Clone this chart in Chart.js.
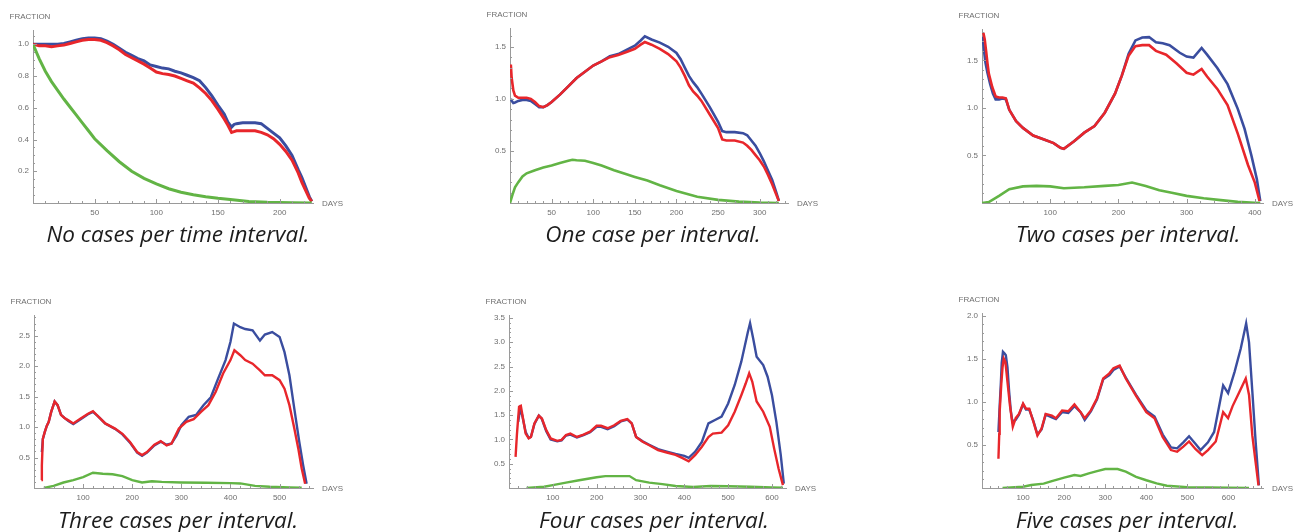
<!DOCTYPE html>
<html>
<head>
<meta charset="utf-8">
<script src="https://cdn.jsdelivr.net/npm/chart.js@4.4.1/dist/chart.umd.min.js"></script>
<style>
  html, body { margin: 0; padding: 0; background: #fff; width: 1294px; height: 532px; overflow: hidden; }
  canvas { position: absolute; }
  .caption { position: absolute; font: italic 22.5px "Open Sans", Lato, sans-serif; line-height: 22px; color: #1c1c1c; white-space: nowrap; transform: translateX(-50%); }
</style>
</head>
<body>
<script>
// values, panel by panel (days -> fraction)
const p1Days = [0, 5, 10, 15, 20, 25, 30, 35, 40, 45, 50, 55, 60, 65, 70, 75, 80, 85, 90, 95, 100, 105, 110, 115, 120, 125, 130, 135, 140, 145, 150, 155, 158, 161, 163, 165, 170, 175, 180, 185, 190, 195, 200, 205, 210, 215, 218, 221, 224, 226];
const p1Blue = [1.0, 1.0, 1.0, 1.0, 1.0, 1.005, 1.015, 1.025, 1.035, 1.04, 1.04, 1.035, 1.02, 1.0, 0.975, 0.95, 0.93, 0.91, 0.895, 0.87, 0.86, 0.85, 0.845, 0.83, 0.82, 0.805, 0.79, 0.77, 0.727, 0.675, 0.615, 0.56, 0.51, 0.478, 0.495, 0.5, 0.505, 0.505, 0.505, 0.5, 0.47, 0.44, 0.41, 0.36, 0.3, 0.21, 0.16, 0.1, 0.04, 0.01];
const p1Red = [1.0, 0.99, 0.99, 0.985, 0.99, 0.995, 1.005, 1.015, 1.025, 1.03, 1.03, 1.025, 1.01, 0.99, 0.965, 0.935, 0.915, 0.895, 0.875, 0.85, 0.825, 0.815, 0.81, 0.8, 0.785, 0.77, 0.755, 0.725, 0.69, 0.645, 0.59, 0.53, 0.49, 0.445, 0.45, 0.455, 0.455, 0.455, 0.455, 0.445, 0.43, 0.405, 0.37, 0.325, 0.27, 0.19, 0.13, 0.08, 0.03, 0.01];
const p1GreenDays = [0, 5, 10, 15, 20, 25, 30, 35, 40, 45, 50, 60, 70, 80, 90, 100, 110, 120, 130, 140, 150, 160, 175, 190, 210, 226];
const p1Green = [1.0, 0.91, 0.83, 0.765, 0.71, 0.655, 0.605, 0.555, 0.505, 0.455, 0.405, 0.33, 0.26, 0.2, 0.155, 0.12, 0.09, 0.068, 0.052, 0.04, 0.03, 0.022, 0.01, 0.005, 0.002, 0.0];

const p2Days = [1, 2, 4, 6, 10, 15, 20, 25, 30, 35, 40, 45, 50, 60, 70, 80, 90, 100, 110, 120, 130, 140, 150, 157, 162, 170, 180, 190, 200, 205, 210, 215, 220, 225, 230, 240, 250, 255, 260, 270, 280, 285, 290, 295, 300, 305, 310, 315, 320, 323];
const p2Blue = [1.0, 0.98, 0.96, 0.965, 0.98, 0.99, 0.99, 0.98, 0.95, 0.92, 0.92, 0.94, 0.97, 1.04, 1.12, 1.2, 1.26, 1.32, 1.36, 1.41, 1.43, 1.47, 1.51, 1.56, 1.6, 1.57, 1.54, 1.5, 1.44, 1.38, 1.3, 1.22, 1.16, 1.11, 1.05, 0.92, 0.78, 0.69, 0.68, 0.68, 0.67, 0.65, 0.6, 0.55, 0.48, 0.4, 0.31, 0.22, 0.1, 0.02];
const p2Red = [1.33, 1.2, 1.08, 1.03, 1.01, 1.01, 1.01, 1.0, 0.97, 0.93, 0.92, 0.94, 0.97, 1.04, 1.12, 1.2, 1.26, 1.32, 1.36, 1.4, 1.42, 1.45, 1.48, 1.52, 1.545, 1.52, 1.48, 1.43, 1.36, 1.3, 1.22, 1.13, 1.07, 1.03, 0.98, 0.85, 0.72, 0.61, 0.6, 0.6, 0.58, 0.55, 0.51, 0.46, 0.41, 0.35, 0.27, 0.18, 0.08, 0.02];
const p2GreenDays = [0, 3, 6, 10, 15, 20, 30, 40, 50, 60, 70, 75, 80, 90, 100, 110, 125, 140, 150, 165, 180, 200, 225, 250, 275, 300, 323];
const p2Green = [0, 0.08, 0.15, 0.2, 0.255, 0.285, 0.315, 0.34, 0.36, 0.385, 0.405, 0.415, 0.41, 0.405, 0.385, 0.36, 0.315, 0.275, 0.25, 0.215, 0.17, 0.115, 0.06, 0.03, 0.013, 0.004, 0];

const p3BlueDays = [1, 3, 5, 8, 12, 16, 20, 25, 30, 35, 40, 50, 60, 75, 90, 105, 115, 120, 135, 150, 165, 180, 195, 205, 215, 225, 235, 245, 255, 265, 275, 290, 300, 310, 322, 330, 345, 360, 375, 385, 395, 403, 408];
const p3Blue = [1.75, 1.6, 1.48, 1.37, 1.25, 1.15, 1.09, 1.09, 1.1, 1.09, 0.98, 0.86, 0.79, 0.71, 0.67, 0.63, 0.58, 0.57, 0.65, 0.74, 0.81, 0.95, 1.15, 1.34, 1.57, 1.71, 1.74, 1.745, 1.69, 1.68, 1.66, 1.58, 1.54, 1.53, 1.63, 1.56, 1.42, 1.25, 0.99, 0.78, 0.5, 0.25, 0.02];
const p3RedDays = [2, 4, 6, 8, 10, 15, 20, 25, 30, 35, 40, 50, 60, 75, 90, 105, 115, 120, 135, 150, 165, 180, 195, 205, 215, 225, 235, 245, 255, 270, 285, 300, 310, 322, 330, 345, 360, 375, 390, 400, 407];
const p3Red = [1.79, 1.72, 1.6, 1.47, 1.36, 1.22, 1.12, 1.11, 1.11, 1.1, 0.98, 0.86, 0.79, 0.71, 0.67, 0.63, 0.58, 0.57, 0.65, 0.74, 0.81, 0.95, 1.15, 1.34, 1.55, 1.65, 1.66, 1.66, 1.6, 1.56, 1.47, 1.37, 1.35, 1.41, 1.33, 1.2, 1.03, 0.73, 0.4, 0.215, 0.02];
const p3GreenDays = [0, 10, 25, 40, 60, 80, 100, 120, 150, 180, 200, 220, 240, 260, 280, 300, 325, 350, 375, 400, 408];
const p3Green = [0, 0.01, 0.075, 0.145, 0.175, 0.18, 0.175, 0.155, 0.165, 0.18, 0.19, 0.215, 0.18, 0.135, 0.105, 0.075, 0.05, 0.03, 0.012, 0.003, 0];

const p4BlueDays = [16, 18, 22, 26, 30, 35, 42, 48, 55, 62, 70, 80, 95, 110, 120, 130, 145, 165, 180, 195, 210, 220, 230, 245, 258, 270, 280, 290, 300, 315, 330, 345, 360, 375, 390, 400, 407, 420, 430, 445, 460, 470, 485, 500, 510, 520, 530, 540, 548, 555];
const p4Blue = [0.59, 0.8, 0.92, 1.02, 1.085, 1.25, 1.42, 1.36, 1.2, 1.15, 1.1, 1.05, 1.13, 1.21, 1.25, 1.18, 1.06, 0.97, 0.88, 0.75, 0.58, 0.53, 0.58, 0.7, 0.76, 0.71, 0.73, 0.86, 1.03, 1.17, 1.2, 1.36, 1.49, 1.8, 2.1, 2.4, 2.7, 2.64, 2.61, 2.59, 2.42, 2.52, 2.56, 2.48, 2.23, 1.85, 1.3, 0.76, 0.37, 0.07];
const p4RedDays = [15, 16, 18, 22, 26, 30, 35, 42, 48, 55, 62, 70, 80, 95, 110, 120, 130, 145, 165, 180, 195, 210, 220, 230, 245, 258, 270, 280, 295, 310, 325, 340, 355, 370, 385, 400, 408, 420, 430, 445, 460, 470, 485, 500, 510, 520, 530, 538, 545, 552];
const p4Red = [0.13, 0.37, 0.81, 0.92, 1.02, 1.085, 1.25, 1.42, 1.36, 1.2, 1.15, 1.11, 1.06, 1.14, 1.22, 1.26, 1.18, 1.06, 0.975, 0.89, 0.76, 0.59, 0.54, 0.59, 0.71, 0.77, 0.7, 0.73, 0.975, 1.085, 1.13, 1.25, 1.36, 1.58, 1.88, 2.1, 2.26, 2.18, 2.1, 2.04, 1.93, 1.85, 1.85, 1.77, 1.63, 1.36, 0.975, 0.65, 0.32, 0.07];
const p4GreenDays = [20, 40, 60, 80, 100, 120, 140, 160, 180, 200, 220, 240, 260, 300, 350, 400, 420, 450, 480, 520, 545];
const p4Green = [0, 0.035, 0.09, 0.13, 0.18, 0.25, 0.235, 0.225, 0.195, 0.13, 0.09, 0.11, 0.1, 0.09, 0.085, 0.08, 0.075, 0.035, 0.02, 0.008, 0.003];

const p5BlueDays = [21, 25, 30, 38, 45, 50, 58, 68, 75, 85, 95, 110, 120, 130, 140, 155, 170, 185, 200, 210, 225, 240, 255, 270, 280, 290, 305, 320, 340, 360, 380, 400, 410, 425, 440, 455, 470, 485, 500, 515, 530, 545, 550, 557, 565, 580, 590, 600, 610, 620, 627];
const p5Blue = [1.36, 1.62, 1.5, 1.15, 1.03, 1.05, 1.32, 1.49, 1.42, 1.17, 1.0, 0.96, 0.98, 1.08, 1.1, 1.04, 1.09, 1.15, 1.26, 1.26, 1.21, 1.27, 1.37, 1.41, 1.33, 1.05, 0.96, 0.89, 0.8, 0.75, 0.7, 0.66, 0.62, 0.75, 0.95, 1.33, 1.4, 1.47, 1.74, 2.12, 2.6, 3.21, 3.39, 3.08, 2.7, 2.53, 2.29, 1.91, 1.36, 0.68, 0.09];
const p5RedDays = [15, 18, 20, 23, 27, 32, 38, 45, 50, 58, 68, 75, 85, 95, 110, 120, 130, 140, 155, 170, 185, 200, 210, 225, 240, 255, 270, 280, 290, 305, 320, 340, 360, 380, 395, 410, 425, 440, 455, 465, 485, 500, 515, 530, 540, 548, 555, 565, 580, 595, 605, 615, 625];
const p5Red = [0.64, 1.09, 1.33, 1.67, 1.69, 1.43, 1.12, 1.02, 1.05, 1.33, 1.49, 1.43, 1.19, 1.02, 0.97, 0.99, 1.09, 1.12, 1.05, 1.1, 1.16, 1.28, 1.28, 1.23, 1.29, 1.38, 1.42, 1.33, 1.05, 0.95, 0.88, 0.78, 0.73, 0.68, 0.62, 0.55, 0.68, 0.85, 1.05, 1.12, 1.14, 1.29, 1.57, 1.91, 2.15, 2.36, 2.19, 1.78, 1.57, 1.26, 0.81, 0.4, 0.06];
const p5GreenDays = [40, 80, 100, 130, 160, 200, 220, 250, 275, 290, 320, 350, 380, 420, 460, 500, 550, 600, 625];
const p5Green = [0, 0.025, 0.06, 0.11, 0.16, 0.22, 0.245, 0.245, 0.245, 0.16, 0.11, 0.08, 0.04, 0.02, 0.04, 0.035, 0.025, 0.01, 0.005];

const p6BlueDays = [40, 43, 46, 48, 51, 55, 58, 62, 66, 70, 74, 82, 90, 100, 107, 115, 125, 135, 145, 155, 170, 180, 195, 210, 225, 240, 250, 265, 280, 295, 310, 320, 335, 350, 375, 400, 420, 440, 460, 475, 490, 504, 520, 532, 550, 565, 587, 599, 615, 630, 643, 650, 658, 666, 674];
const p6Blue = [0.65, 0.95, 1.23, 1.45, 1.58, 1.56, 1.54, 1.4, 1.12, 0.9, 0.77, 0.79, 0.85, 0.97, 0.91, 0.91, 0.78, 0.62, 0.68, 0.85, 0.82, 0.8, 0.88, 0.87, 0.95, 0.88, 0.79, 0.89, 1.03, 1.26, 1.31, 1.37, 1.41, 1.28, 1.08, 0.9, 0.83, 0.62, 0.47, 0.46, 0.53, 0.6, 0.51, 0.44, 0.53, 0.65, 1.19, 1.1, 1.35, 1.62, 1.91, 1.69, 1.12, 0.54, 0.03];
const p6RedDays = [40, 42, 43, 47, 50, 53, 57, 62, 68, 75, 82, 90, 100, 107, 115, 125, 135, 145, 155, 170, 180, 195, 210, 225, 240, 250, 265, 280, 295, 310, 320, 335, 350, 375, 400, 420, 440, 460, 475, 490, 504, 520, 536, 550, 569, 587, 599, 610, 625, 642, 650, 658, 666, 673];
const p6Red = [0.34, 0.63, 0.88, 1.21, 1.4, 1.5, 1.46, 1.23, 0.96, 0.71, 0.81, 0.86, 0.98, 0.92, 0.92, 0.77, 0.61, 0.69, 0.86, 0.84, 0.81, 0.9, 0.89, 0.97, 0.88, 0.81, 0.9, 1.04, 1.27, 1.33, 1.39, 1.42, 1.27, 1.07, 0.88, 0.81, 0.59, 0.44, 0.42, 0.48, 0.54, 0.45, 0.38, 0.44, 0.54, 0.88, 0.81, 0.95, 1.1, 1.27, 1.08, 0.61, 0.3, 0.03];
const p6GreenDays = [50, 100, 120, 150, 170, 200, 225, 240, 260, 280, 300, 330, 350, 375, 400, 425, 450, 500, 550, 650];
const p6Green = [0, 0.015, 0.035, 0.05, 0.08, 0.12, 0.15, 0.14, 0.17, 0.195, 0.22, 0.22, 0.19, 0.13, 0.09, 0.053, 0.026, 0.01, 0.006, 0];

// tick labels
const xTicks50 = [50, 100, 150, 200];
const xTicks2 = [50, 100, 150, 200, 250, 300];
const xTicks3 = [100, 200, 300, 400];
const xTicks4 = [100, 200, 300, 400, 500];
const xTicks5 = [100, 200, 300, 400, 500, 600];
const yTicks1 = [0.2, 0.4, 0.6, 0.8, 1.0];
const yTicks2 = [0.5, 1.0, 1.5];
const yTicks4 = [0.5, 1.0, 1.5, 2.0, 2.5];
const yTicks5 = [0.5, 1.0, 1.5, 2.0, 2.5, 3.0, 3.5];
const yTicks6 = [0.5, 1.0, 1.5, 2.0];

const captions = ['No cases per time interval.', 'One case per interval.', 'Two cases per interval.',
  'Three cases per interval.', 'Four cases per interval.', 'Five cases per interval.'];

const BLUE = '#3a4d9f';
const RED = '#e8262b';
const GREEN = '#62b445';
const AXIS = '#9a9a9a';
const TICK = '#6f6f6f';

// where each panel sits on the page (origin pixel, px per unit, axis extents)
const panels = [
  { x0: 33, y0: 203, kx: 1.232, ky: 159, xmax: 227, ymax: 1.09, xMinor: 10, yMinor: 0.05, xTicks: xTicks50, yTicks: yTicks1, lw: 3,
    blueDays: p1Days, blue: p1Blue, redDays: p1Days, red: p1Red, greenDays: p1GreenDays, green: p1Green, capX: 178, capY: 223 },
  { x0: 510, y0: 203, kx: 0.832, ky: 104, xmax: 334, ymax: 1.68, xMinor: 10, yMinor: 0.1, xTicks: xTicks2, yTicks: yTicks2, lw: 2.6,
    blueDays: p2Days, blue: p2Blue, redDays: p2Days, red: p2Red, greenDays: p2GreenDays, green: p2Green, capX: 653, capY: 223 },
  { x0: 982, y0: 203, kx: 0.683, ky: 95, xmax: 412, ymax: 1.83, xMinor: 20, yMinor: 0.1, xTicks: xTicks3, yTicks: yTicks2, lw: 2.6,
    blueDays: p3BlueDays, blue: p3Blue, redDays: p3RedDays, red: p3Red, greenDays: p3GreenDays, green: p3Green, capX: 1128, capY: 223 },
  { x0: 34, y0: 488, kx: 0.492, ky: 61, xmax: 568, ymax: 2.84, xMinor: 20, yMinor: 0.1, xTicks: xTicks4, yTicks: yTicks4, lw: 2.4,
    blueDays: p4BlueDays, blue: p4Blue, redDays: p4RedDays, red: p4Red, greenDays: p4GreenDays, green: p4Green, capX: 178, capY: 509 },
  { x0: 509, y0: 488, kx: 0.439, ky: 48.6, xmax: 632, ymax: 3.56, xMinor: 20, yMinor: 0.1, xTicks: xTicks5, yTicks: yTicks5, lw: 2.4,
    blueDays: p5BlueDays, blue: p5Blue, redDays: p5RedDays, red: p5Red, greenDays: p5GreenDays, green: p5Green, capX: 654, capY: 509 },
  { x0: 982, y0: 488, kx: 0.411, ky: 86.3, xmax: 684, ymax: 2.03, xMinor: 20, yMinor: 0.1, xTicks: xTicks5, yTicks: yTicks6, lw: 2.4,
    blueDays: p6BlueDays, blue: p6Blue, redDays: p6RedDays, red: p6Red, greenDays: p6GreenDays, green: p6Green, capX: 1127, capY: 509 }
];

// Mathematica-style axes: ticks pointing into the plot, FRACTION / DAYS labels at the ends
const axisDecor = {
  id: 'axisDecor',
  afterDraw(chart, args, opts) {
    const { ctx, chartArea: a, scales: { x, y } } = chart;
    ctx.save();
    ctx.strokeStyle = AXIS;
    ctx.lineWidth = 1;
    const tick = (scale, step, len, horiz) => {
      for (let i = 1; i * step <= scale.max + 1e-9; i++) {
        const p = Math.round(scale.getPixelForValue(i * step)) + 0.5;
        ctx.beginPath();
        if (horiz) { ctx.moveTo(p, a.bottom); ctx.lineTo(p, a.bottom - len); }
        else { ctx.moveTo(a.left, p); ctx.lineTo(a.left + len, p); }
        ctx.stroke();
      }
    };
    tick(x, opts.xMinor, 2, true);
    tick(y, opts.yMinor, 2, false);
    opts.xTicks.forEach(v => {
      const p = Math.round(x.getPixelForValue(v)) + 0.5;
      ctx.beginPath(); ctx.moveTo(p, a.bottom); ctx.lineTo(p, a.bottom - 4); ctx.stroke();
    });
    opts.yTicks.forEach(v => {
      const p = Math.round(y.getPixelForValue(v)) + 0.5;
      ctx.beginPath(); ctx.moveTo(a.left, p); ctx.lineTo(a.left + 4, p); ctx.stroke();
    });
    ctx.fillStyle = TICK;
    ctx.font = '8px "Liberation Sans", Arial, sans-serif';
    ctx.textBaseline = 'middle';
    ctx.textAlign = 'left';
    ctx.fillText('FRACTION', a.left - 23.5, a.top - 13);
    ctx.fillText('DAYS', a.right + 9, a.bottom + 0.5);
    ctx.restore();
  }
};

const pts = (xs, ys) => xs.map((d, i) => ({ x: d, y: ys[i] }));

function makePanel(cfg, idx) {
  const yW = 30, xH = 18, padT = 18, padR = 36;
  const plotW = Math.round(cfg.xmax * cfg.kx);
  const plotH = Math.round(cfg.ymax * cfg.ky);
  const canvas = document.createElement('canvas');
  canvas.width = yW + plotW + padR;
  canvas.height = padT + plotH + xH;
  canvas.style.left = (cfg.x0 - yW) + 'px';
  canvas.style.top = (cfg.y0 - plotH - padT) + 'px';
  canvas.style.width = canvas.width + 'px';
  canvas.style.height = canvas.height + 'px';
  document.body.appendChild(canvas);

  const cap = document.createElement('div');
  cap.className = 'caption';
  cap.textContent = captions[idx];
  cap.style.left = cfg.capX + 'px';
  cap.style.top = cfg.capY + 'px';
  document.body.appendChild(cap);

  new Chart(canvas, {
    type: 'line',
    data: {
      datasets: [
        { data: pts(cfg.blueDays, cfg.blue), borderColor: BLUE, order: 3 },
        { data: pts(cfg.redDays, cfg.red), borderColor: RED, order: 2 },
        { data: pts(cfg.greenDays, cfg.green), borderColor: GREEN, order: 1 }
      ]
    },
    options: {
      responsive: false,
      animation: false,
      devicePixelRatio: 1,
      layout: { padding: { top: padT, right: padR, left: 0, bottom: 0 } },
      elements: { line: { borderWidth: cfg.lw, tension: 0, fill: false }, point: { radius: 0 } },
      plugins: { legend: { display: false }, tooltip: { enabled: false }, axisDecor: cfg },
      scales: {
        x: {
          type: 'linear', min: 0, max: cfg.xmax,
          grid: { display: false, drawTicks: false },
          border: { display: true, color: AXIS, width: 1 },
          ticks: { color: TICK, font: { size: 8, family: '"Liberation Sans", Arial, sans-serif' }, padding: 5, maxRotation: 0, autoSkip: false, includeBounds: false, callback: v => String(v) },
          afterBuildTicks: s => { s.ticks = cfg.xTicks.map(v => ({ value: v })); },
          afterFit: s => { s.height = xH; }
        },
        y: {
          type: 'linear', min: 0, max: cfg.ymax,
          grid: { display: false, drawTicks: false },
          border: { display: true, color: AXIS, width: 1 },
          ticks: { color: TICK, font: { size: 8, family: '"Liberation Sans", Arial, sans-serif' }, padding: 4, autoSkip: false, includeBounds: false, callback: v => v.toFixed(1) },
          afterBuildTicks: s => { s.ticks = cfg.yTicks.map(v => ({ value: v })); },
          afterFit: s => { s.width = yW; }
        }
      }
    },
    plugins: [axisDecor]
  });
}

panels.forEach(makePanel);
</script>
</body>
</html>
